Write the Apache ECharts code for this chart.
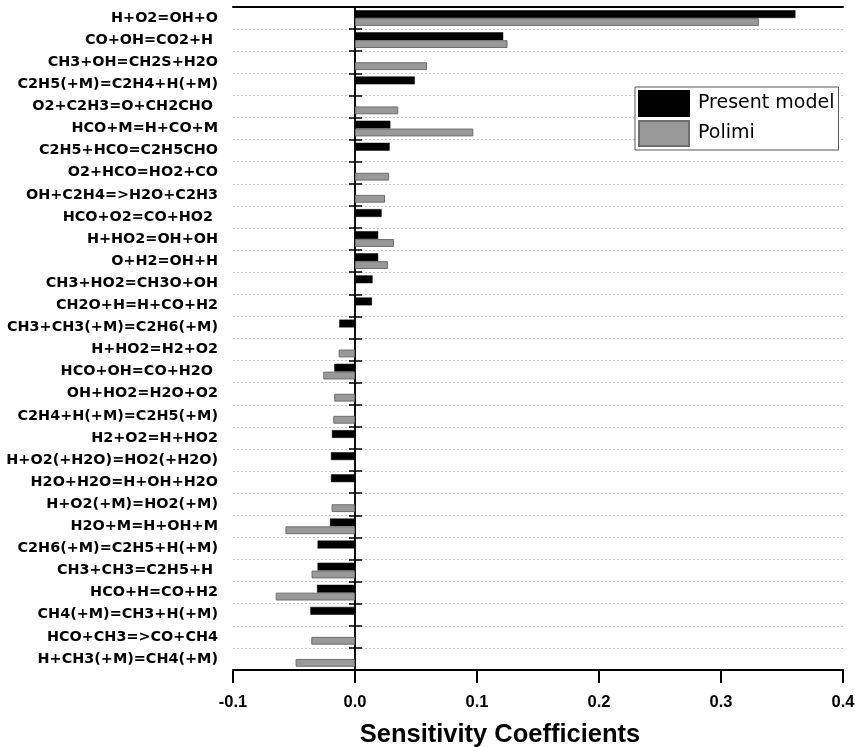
<!DOCTYPE html>
<html>
<head>
<meta charset="utf-8">
<script src="https://cdn.jsdelivr.net/npm/echarts@6/dist/echarts.min.js"></script>
<style>html,body{margin:0;padding:0;background:#fff;}#c{width:857px;height:747px;}</style>
</head>
<body>
<div id="c"></div>
<script>
var categories = [
  'H+O2=OH+O', 'CO+OH=CO2+H ', 'CH3+OH=CH2S+H2O', 'C2H5(+M)=C2H4+H(+M)',
  'O2+C2H3=O+CH2CHO ', 'HCO+M=H+CO+M', 'C2H5+HCO=C2H5CHO', 'O2+HCO=HO2+CO',
  'OH+C2H4=>H2O+C2H3', 'HCO+O2=CO+HO2 ', 'H+HO2=OH+OH', 'O+H2=OH+H',
  'CH3+HO2=CH3O+OH', 'CH2O+H=H+CO+H2', 'CH3+CH3(+M)=C2H6(+M)', 'H+HO2=H2+O2',
  'HCO+OH=CO+H2O ', 'OH+HO2=H2O+O2', 'C2H4+H(+M)=C2H5(+M)', 'H2+O2=H+HO2',
  'H+O2(+H2O)=HO2(+H2O)', 'H2O+H2O=H+OH+H2O', 'H+O2(+M)=HO2(+M)', 'H2O+M=H+OH+M',
  'C2H6(+M)=C2H5+H(+M)', 'CH3+CH3=C2H5+H ', 'HCO+H=CO+H2', 'CH4(+M)=CH3+H(+M)',
  'HCO+CH3=>CO+CH4', 'H+CH3(+M)=CH4(+M)'
];
var presentModel = [
  0.361, 0.1215, null, 0.049,
  null, 0.029, 0.0284, null,
  null, 0.0218, 0.019, 0.019,
  0.0144, 0.0139, -0.0129, null,
  -0.017, null, null, -0.0189,
  -0.0197, -0.0197, null, -0.0205,
  -0.0307, -0.0307, -0.0311, -0.0366,
  null, null
];
var polimi = [
  0.331, 0.125, 0.059, null,
  0.0355, 0.097, null, 0.028,
  0.0246, null, 0.032, 0.027,
  null, null, null, -0.0134,
  -0.026, -0.017, -0.0178, null,
  null, null, -0.0192, -0.057,
  null, -0.0356, -0.065, null,
  -0.0358, -0.0487
];
var xTicks = { min: -0.1, max: 0.4, interval: 0.1 };
var seriesNames = ['Present model', 'Polimi'];
var axisName = 'Sensitivity Coefficients';

var chart = echarts.init(document.getElementById('c'), null, { renderer: 'canvas' });
var lab = 'DejaVu Sans';
chart.setOption({
  animation: false,
  backgroundColor: '#fff',
  grid: { left: 233, right: 14, top: 7, bottom: 77, containLabel: false, outerBoundsMode: 'none' },
  legend: {
    orient: 'vertical', left: 635, top: 87,
    itemWidth: 50, itemHeight: 25, itemGap: 3,
    padding: [3, 4, 3, 3],
    borderColor: '#555', borderWidth: 1,
    backgroundColor: '#fff',
    icon: 'rect',
    textStyle: { fontFamily: lab, fontSize: 19, color: '#000', padding: [0, 0, 0, 4] },
    data: seriesNames
  },
  xAxis: [{
    type: 'value', position: 'bottom',
    min: xTicks.min, max: xTicks.max, interval: xTicks.interval,
    axisLine: { show: true, onZero: false, lineStyle: { color: '#000', width: 2 } },
    axisTick: { show: true, inside: false, length: 13, lineStyle: { color: '#000', width: 2 } },
    axisLabel: { margin: 24, fontFamily: 'Liberation Sans, Arial', fontWeight: 'bold', fontSize: 16.5, color: '#000',
      formatter: function (v) { return v.toFixed(1); } },
    splitLine: { show: false },
    name: axisName, nameLocation: 'middle', nameGap: 52,
    nameTextStyle: { fontFamily: 'Liberation Sans, Arial', fontWeight: 'bold', fontSize: 25.5, color: '#000', padding: [0, 76, 0, 0] }
  }, {
    type: 'value', position: 'top',
    min: xTicks.min, max: xTicks.max, interval: xTicks.interval,
    axisLine: { show: true, onZero: false, lineStyle: { color: '#000', width: 2 } },
    axisTick: { show: false }, axisLabel: { show: false }, splitLine: { show: false }
  }],
  yAxis: [{
    type: 'category', inverse: true, data: categories, position: 'left',
    axisLine: { show: false, onZero: false },
    axisTick: { show: false },
    axisLabel: { interval: 0, margin: 15, fontFamily: lab, fontWeight: 'bold', fontSize: 14.4, color: '#000' },
    splitLine: { show: true, interval: 0, lineStyle: { color: '#c4c4c4', width: 1, type: [2, 2] } }
  }, {
    type: 'category', inverse: true, data: categories, position: 'left',
    axisLine: { show: true, onZero: true, lineStyle: { color: '#000', width: 1.5 } },
    axisTick: { show: true, interval: 0, length: 6, lineStyle: { color: '#000', width: 1.5 } },
    axisLabel: { show: false }, splitLine: { show: false }
  }, {
    type: 'category', inverse: true, data: categories, position: 'right',
    axisLine: { show: true, onZero: true, lineStyle: { color: '#000', width: 1.5 } },
    axisTick: { show: true, interval: 0, length: 7, lineStyle: { color: '#000', width: 1.5 } },
    axisLabel: { show: false }, splitLine: { show: false }
  }],
  series: [{
    name: seriesNames[0], type: 'bar', xAxisIndex: 0, yAxisIndex: 0,
    data: presentModel, barGap: '0%', barCategoryGap: '29%',
    itemStyle: { color: '#000', borderColor: '#000', borderWidth: 0.5 }
  }, {
    name: seriesNames[1], type: 'bar', xAxisIndex: 0, yAxisIndex: 0,
    data: polimi, barGap: '0%', barCategoryGap: '29%',
    itemStyle: { color: '#999999', borderColor: '#6e6e6e', borderWidth: 1 }
  }]
});
</script>
</body>
</html>
